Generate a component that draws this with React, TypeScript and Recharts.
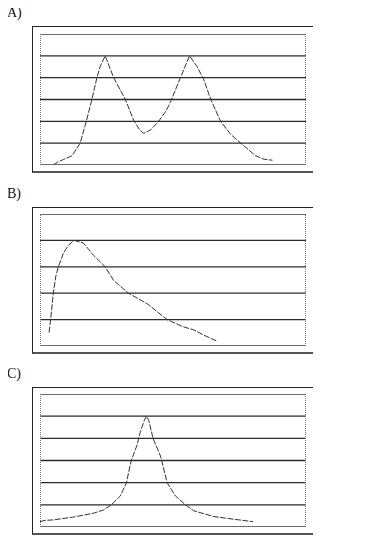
// Three single-curve panels (A, B, C) stacked vertically

import { LineChart, Line, XAxis, YAxis, CartesianGrid } from "recharts";

type Pt = { x: number; y: number };

// x: percent of plot width, y: in grid-band units
const curveA: Pt[] = [
  { x: 5.0, y: 0 }, { x: 6.9, y: 0.15 }, { x: 8.8, y: 0.25 }, { x: 12.0, y: 0.42 },
  { x: 15.1, y: 1.0 }, { x: 17.4, y: 2.0 }, { x: 19.5, y: 3.0 }, { x: 21.4, y: 4.0 },
  { x: 22.6, y: 4.5 }, { x: 24.5, y: 5.0 }, { x: 27.7, y: 4.0 }, { x: 32.1, y: 3.0 },
  { x: 35.2, y: 2.05 }, { x: 37.5, y: 1.6 }, { x: 39.0, y: 1.45 }, { x: 41.5, y: 1.6 },
  { x: 44.6, y: 2.0 }, { x: 47.5, y: 2.5 }, { x: 49.1, y: 2.9 }, { x: 52.8, y: 4.0 },
  { x: 56.2, y: 5.0 }, { x: 59.1, y: 4.5 }, { x: 61.6, y: 3.9 }, { x: 64.2, y: 3.0 },
  { x: 67.9, y: 2.0 }, { x: 71.7, y: 1.4 }, { x: 75.5, y: 1.0 }, { x: 81.1, y: 0.42 },
  { x: 84.3, y: 0.26 }, { x: 87.4, y: 0.22 },
];

const curveB: Pt[] = [
  { x: 3.4, y: 0.51 }, { x: 4.0, y: 1.0 }, { x: 5.0, y: 2.0 }, { x: 6.0, y: 2.67 },
  { x: 6.9, y: 3.0 }, { x: 8.8, y: 3.51 }, { x: 10.7, y: 3.82 }, { x: 12.8, y: 4.0 },
  { x: 16.3, y: 3.9 }, { x: 20.1, y: 3.44 }, { x: 24.5, y: 3.0 }, { x: 27.7, y: 2.48 },
  { x: 33.3, y: 2.0 }, { x: 40.3, y: 1.6 }, { x: 47.8, y: 1.0 }, { x: 53.5, y: 0.74 },
  { x: 57.8, y: 0.61 }, { x: 61.6, y: 0.41 }, { x: 66.4, y: 0.19 },
];

const curveC: Pt[] = [
  { x: 0, y: 0.24 }, { x: 1.9, y: 0.3 }, { x: 5.0, y: 0.32 }, { x: 12.6, y: 0.45 },
  { x: 20.1, y: 0.62 }, { x: 23.9, y: 0.77 }, { x: 26.8, y: 1.0 }, { x: 30.2, y: 1.4 },
  { x: 32.5, y: 2.0 }, { x: 34.3, y: 3.0 }, { x: 36.5, y: 3.7 }, { x: 37.7, y: 4.3 },
  { x: 39.2, y: 4.8 }, { x: 40.0, y: 5.0 }, { x: 40.9, y: 4.8 }, { x: 42.5, y: 4.0 },
  { x: 45.3, y: 3.2 }, { x: 47.8, y: 2.0 }, { x: 50.9, y: 1.4 }, { x: 54.7, y: 1.0 },
  { x: 57.8, y: 0.73 }, { x: 65.4, y: 0.47 }, { x: 72.9, y: 0.35 }, { x: 80.1, y: 0.24 },
];

const labels = ["A)", "B)", "C)"];
const bands = [6, 5, 6];

interface PanelProps {
  label: string;
  data: Pt[];
  bandCount: number;
  labelTop: number;
  frameTop: number;
  frameBottom: number;
  plotTop: number;
  plotBottom: number;
}

function Panel({ label, data, bandCount, labelTop, frameTop, frameBottom, plotTop, plotBottom }: PanelProps) {
  const plotH = plotBottom - plotTop;
  const ticks = Array.from({ length: bandCount - 1 }, (_, i) => i + 1);
  return (
    <>
      <div
        style={{
          position: "absolute",
          left: 7,
          top: labelTop,
          fontFamily: "'Liberation Serif', 'Times New Roman', serif",
          fontSize: 14,
          lineHeight: "14px",
          color: "#111",
        }}
      >
        {label}
      </div>
      <div
        style={{
          position: "absolute",
          left: 32,
          top: frameTop,
          width: 281,
          height: frameBottom - frameTop,
          boxSizing: "border-box",
          borderTop: "1.5px solid #222",
          borderLeft: "1.5px solid #222",
          borderBottom: "2px solid #555",
        }}
      />
      <div style={{ position: "absolute", left: 40, top: plotTop }}>
        <LineChart width={266} height={plotH} data={data} margin={{ top: 0, right: 0, bottom: 0, left: 0 }}>
          <CartesianGrid vertical={false} stroke="#2a2a2a" strokeWidth={1.3} />
          <XAxis type="number" dataKey="x" domain={[0, 100]} hide />
          <YAxis type="number" domain={[0, bandCount]} ticks={ticks} interval={0} hide />
          <Line
            type="linear"
            dataKey="y"
            stroke="#333"
            strokeWidth={1}
            strokeDasharray="6 1.5"
            dot={false}
            isAnimationActive={false}
          />
        </LineChart>
      </div>
      <div
        style={{
          position: "absolute",
          left: 40,
          top: plotTop,
          width: 266,
          height: plotH,
          boxSizing: "border-box",
          border: "1px dotted #777",
        }}
      />
    </>
  );
}

export default function App() {
  return (
    <div style={{ position: "relative", left: -8, top: -8, width: 388, height: 538, background: "#fff" }}>
      <Panel label={labels[0]} data={curveA} bandCount={bands[0]} labelTop={6} frameTop={26} frameBottom={173} plotTop={34} plotBottom={165} />
      <Panel label={labels[1]} data={curveB} bandCount={bands[1]} labelTop={187} frameTop={207} frameBottom={354} plotTop={214} plotBottom={346} />
      <Panel label={labels[2]} data={curveC} bandCount={bands[2]} labelTop={367} frameTop={387} frameBottom={535} plotTop={394} plotBottom={527} />
    </div>
  );
}
